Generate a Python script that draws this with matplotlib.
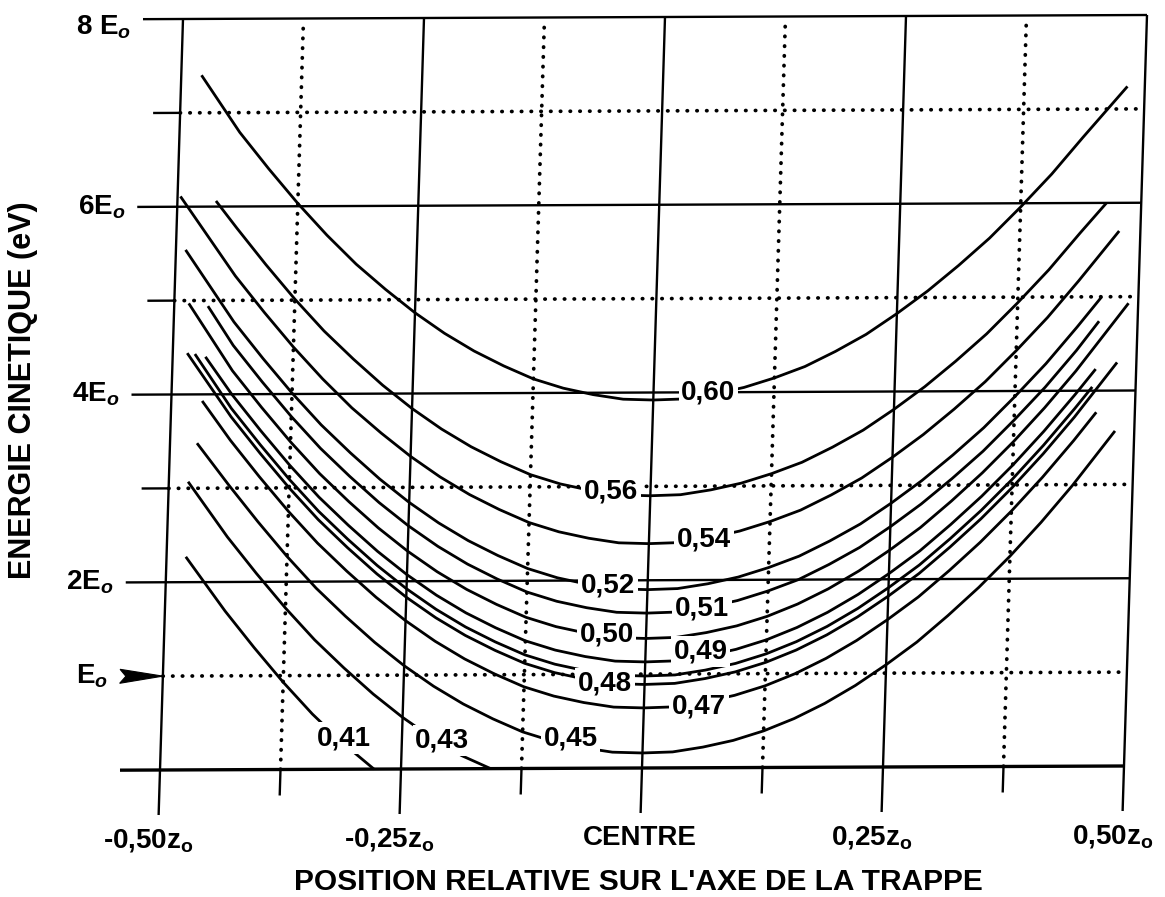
import matplotlib
matplotlib.use('Agg')
import matplotlib.pyplot as plt
import matplotlib.transforms as mtransforms
from matplotlib.patches import Polygon

plt.rcParams['font.family'] = ['Liberation Sans', 'DejaVu Sans']
plt.rcParams['mathtext.fontset'] = 'custom'
plt.rcParams['mathtext.rm'] = 'Liberation Sans:bold'
plt.rcParams['mathtext.it'] = 'Liberation Sans:italic:bold'
plt.rcParams['mathtext.bf'] = 'Liberation Sans:bold'

# ---------------- data (x in units of z0, E in units of E0) ----------------
G = [-0.4375, -0.40625, -0.375, -0.34375, -0.3125, -0.28125, -0.25, -0.21875,
     -0.1875, -0.15625, -0.125, -0.09375, -0.0625, -0.03125, 0.0, 0.03125,
     0.0625, 0.09375, 0.125, 0.15625, 0.1875, 0.21875, 0.25, 0.28125, 0.3125,
     0.34375, 0.375, 0.40625, 0.4375]

c060_x = [-0.479] + G + [0.482]
c060_e = [7.40, 6.79, 6.40, 6.03, 5.69, 5.38, 5.11, 4.86, 4.64, 4.45, 4.29, 4.15, 4.05, 3.98, 3.93, 3.92,
          3.93, 3.98, 4.05, 4.15, 4.27, 4.43, 4.61, 4.83, 5.07, 5.34, 5.63, 5.96, 6.31, 6.70, 7.24]
c056_x = [-0.460] + G + [0.464]
c056_e = [6.06, 5.77, 5.38, 5.01, 4.67, 4.37, 4.09, 3.84, 3.62, 3.43, 3.27, 3.13, 3.03, 2.96, 2.91, 2.90,
          2.91, 2.96, 3.03, 3.13, 3.25, 3.41, 3.59, 3.81, 4.05, 4.32, 4.61, 4.94, 5.29, 5.68, 6.00]
c054_x = [-0.497] + G + [0.478]
c054_e = [6.11, 5.26, 4.87, 4.50, 4.16, 3.85, 3.58, 3.33, 3.11, 2.92, 2.76, 2.62, 2.52, 2.45, 2.40, 2.39,
          2.40, 2.45, 2.52, 2.62, 2.74, 2.90, 3.08, 3.30, 3.54, 3.81, 4.10, 4.43, 4.78, 5.17, 5.70]
c052_x = [-0.490] + G + [0.462]
c052_e = [5.54, 4.77, 4.38, 4.01, 3.67, 3.37, 3.09, 2.84, 2.62, 2.43, 2.27, 2.13, 2.03, 1.96, 1.91, 1.90,
          1.91, 1.96, 2.03, 2.13, 2.25, 2.41, 2.59, 2.81, 3.05, 3.32, 3.61, 3.94, 4.29, 4.68, 5.00]
c051_x = [-0.465] + G + [0.460]
c051_e = [4.94, 4.52, 4.13, 3.76, 3.42, 3.12, 2.84, 2.59, 2.37, 2.18, 2.02, 1.88, 1.78, 1.71, 1.66, 1.65,
          1.66, 1.71, 1.78, 1.88, 2.00, 2.16, 2.34, 2.56, 2.80, 3.07, 3.36, 3.69, 4.04, 4.43, 4.74]
c050_x = [-0.485] + G + [0.490]
c050_e = [4.97, 4.25, 3.86, 3.49, 3.15, 2.85, 2.57, 2.32, 2.10, 1.91, 1.75, 1.61, 1.51, 1.44, 1.39, 1.38,
          1.39, 1.44, 1.51, 1.61, 1.74, 1.90, 2.09, 2.31, 2.55, 2.83, 3.13, 3.46, 3.82, 4.21, 4.93]
c049_x = [-0.466] + G + [0.458]
c049_e = [4.40, 4.00, 3.61, 3.24, 2.90, 2.60, 2.32, 2.07, 1.85, 1.66, 1.50, 1.36, 1.26, 1.19, 1.14, 1.13,
          1.14, 1.19, 1.26, 1.36, 1.49, 1.65, 1.84, 2.06, 2.30, 2.58, 2.88, 3.21, 3.57, 3.96, 4.23]
c0485_x = [-0.477] + G + [0.455]
c0485_e = [4.43, 3.85, 3.46, 3.09, 2.75, 2.45, 2.17, 1.92, 1.70, 1.51, 1.35, 1.21, 1.11, 1.04, 0.99, 0.98,
           0.99, 1.04, 1.11, 1.21, 1.34, 1.50, 1.69, 1.91, 2.15, 2.43, 2.73, 3.06, 3.42, 3.81, 4.04]
c048_x = [-0.485] + G + [0.480]
c048_e = [4.44, 3.76, 3.37, 3.00, 2.66, 2.36, 2.08, 1.83, 1.61, 1.42, 1.26, 1.12, 1.02, 0.95, 0.90, 0.89,
          0.90, 0.95, 1.02, 1.12, 1.25, 1.41, 1.60, 1.82, 2.06, 2.34, 2.64, 2.97, 3.33, 3.72, 4.30]
c047_x = [-0.468] + G + [0.460]
c047_e = [3.93, 3.51, 3.12, 2.75, 2.41, 2.11, 1.83, 1.58, 1.36, 1.17, 1.01, 0.87, 0.77, 0.70, 0.65, 0.64,
          0.65, 0.70, 0.77, 0.87, 1.00, 1.16, 1.35, 1.57, 1.81, 2.09, 2.39, 2.72, 3.08, 3.47, 3.77]
c045_x = [-0.472] + G + [0.480]
c045_e = [3.48, 3.03, 2.64, 2.27, 1.93, 1.63, 1.35, 1.10, 0.88, 0.69, 0.53, 0.39, 0.29, 0.22, 0.17, 0.16,
          0.17, 0.22, 0.29, 0.39, 0.52, 0.68, 0.87, 1.09, 1.33, 1.61, 1.91, 2.24, 2.60, 2.99, 3.57]
c043_x = [-0.480, -0.4375, -0.40625, -0.375, -0.34375, -0.3125, -0.28125, -0.25, -0.21875, -0.1875, -0.157]
c043_e = [3.07, 2.48, 2.09, 1.72, 1.38, 1.08, 0.80, 0.55, 0.33, 0.14, 0.0]
c041_x = [-0.480, -0.4375, -0.40625, -0.375, -0.34375, -0.3125, -0.278]
c041_e = [2.27, 1.69, 1.30, 0.93, 0.59, 0.29, 0.0]

curves_x = [c060_x, c056_x, c054_x, c052_x, c051_x, c050_x, c049_x, c0485_x,
            c048_x, c047_x, c045_x, c043_x, c041_x]
curves_e = [c060_e, c056_e, c054_e, c052_e, c051_e, c050_e, c049_e, c0485_e,
            c048_e, c047_e, c045_e, c043_e, c041_e]

curve_labels = ['0,60', '0,56', '0,54', '0,52', '0,51', '0,50', '0,49', '0,48',
                '0,47', '0,45', '0,43', '0,41']
label_x = [0.057, -0.041, 0.057, -0.041, 0.057, -0.041, 0.057, -0.041, 0.057, -0.075, -0.208, -0.310]
label_e = [4.00, 2.95, 2.43, 1.95, 1.70, 1.42, 1.24, 0.90, 0.65, 0.32, 0.30, 0.33]

x_major = [-0.5, -0.25, 0.0, 0.25, 0.5]
x_major_labels = [r'-0,50z$_{\mathrm{o}}$', r'-0,25z$_{\mathrm{o}}$', 'CENTRE',
                  r'0,25z$_{\mathrm{o}}$', r'0,50z$_{\mathrm{o}}$']
x_minor = [-0.375, -0.125, 0.125, 0.375]
y_major = [0, 2, 4, 6, 8]
y_major_labels = ['', r'2E$_o$', r'4E$_o$', r'6E$_o$', r'8 E$_o$']
y_minor = [1, 3, 5, 7]
y_minor_labels = [r'E$_o$', '', '', '']

xlabel = "POSITION RELATIVE SUR L'AXE DE LA TRAPPE"
ylabel = "ENERGIE CINETIQUE (eV)"

# ---------------- figure ----------------
W, H = 1165, 897
fig = plt.figure(figsize=(W / 100, H / 100), dpi=100)
x0px, x1px, y0px, y1px = 171.5, 1135.5, 768, 17
ax = fig.add_axes([x0px / W, (H - y0px) / H, (x1px - x0px) / W, (y0px - y1px) / H])
ax.set_xlim(-0.5, 0.5)
ax.set_ylim(0, 8)
ax.axis('off')

# slight shear of the scanned original (vertical lines lean right towards the top)
kx, ky = 23.0 / 751.0, 4.0 / 964.0
cxd, cyd = (x0px + x1px) / 2.0, H - (y0px + y1px) / 2.0
shear = mtransforms.Affine2D(matrix=[[1.0, kx, -kx * cyd], [ky, 1.0, -ky * cxd], [0, 0, 1]])
T = ax.transData + shear

pxx = 1.0 / (x1px - x0px)          # one pixel in x data units
pxy = 8.0 / (y0px - y1px)          # one pixel in y data units

dot = dict(color='black', lw=2.7, ls=(0, (0.1, 2.5)), dash_capstyle='round',
           clip_on=False, transform=T)
solid = dict(color='black', lw=1.7, solid_capstyle='butt', clip_on=False, transform=T)

# vertical grid
for x in x_major:
    ax.plot([x, x], [-45 * pxy, 8], **solid)
for x in x_minor:
    ax.plot([x, x], [0, 7.92], **dot)
    ax.plot([x, x], [-26 * pxy, 0], **solid)
# horizontal grid
for y in y_major:
    lw = 2.4 if y == 0 else 1.7
    ax.plot([-0.5 - 40 * pxx, 0.5], [y, y], color='black', lw=lw,
            solid_capstyle='butt', clip_on=False, transform=T)
for y in y_minor:
    ax.plot([-0.5, 0.5], [y, y], **dot)
    if y != 1:
        ax.plot([-0.5 - 27 * pxx, -0.5], [y, y], **solid)

# E0 arrow
arrow = Polygon([[-0.5, 1.0], [-0.5 - 43 * pxx, 1.0 + 7 * pxy],
                 [-0.5 - 37 * pxx, 1.0], [-0.5 - 43 * pxx, 1.0 - 7 * pxy]],
                closed=True, facecolor='black', edgecolor='black', lw=0.8,
                clip_on=False, transform=T)
ax.add_patch(arrow)

# curves
for xs, es in zip(curves_x, curves_e):
    ax.plot(xs, es, color='black', lw=2.0, solid_capstyle='butt',
            solid_joinstyle='round', zorder=3, clip_on=False, transform=T)

# curve labels
for t, lx, le in zip(curve_labels, label_x, label_e):
    ax.text(lx, le, t, fontsize=20, fontweight='bold', ha='center', va='center',
            zorder=5, transform=T, clip_on=False,
            bbox=dict(boxstyle='square,pad=0.1', fc='white', ec='none'))

# tick labels
for x, t in zip(x_major, x_major_labels):
    shift = 0 if t == 'CENTRE' else -9
    ax.text(x + shift * pxx, -77 * pxy, t, fontsize=20, fontweight='bold', ha='center',
            va='baseline', clip_on=False, transform=T)
for y, t in zip(y_major, y_major_labels):
    if t:
        ax.text(-0.5 - 52 * pxx, y - (8 * pxy if y == 8 else 0), t, fontsize=20,
                fontweight='bold', ha='right', va='center', clip_on=False, transform=T)
for y, t in zip(y_minor, y_minor_labels):
    if t:
        ax.text(-0.5 - 55 * pxx, y, t, fontsize=20, fontweight='bold', ha='right',
                va='center', clip_on=False, transform=T)

# axis titles (placed in figure pixels)
fig.text(638 / W, 1 - 890 / H, xlabel, fontsize=21.5, fontweight='bold',
         ha='center', va='baseline')
fig.text(23 / W, 1 - 390 / H, ylabel, fontsize=22, fontweight='bold',
         rotation=90, ha='center', va='center')

fig.savefig('out.png', dpi=100)
